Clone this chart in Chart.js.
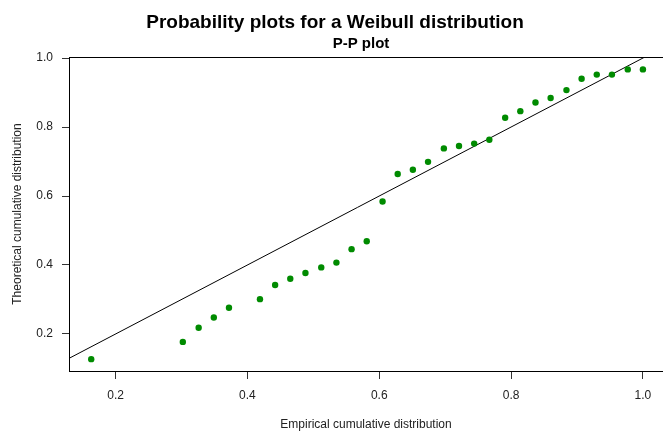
<!DOCTYPE html>
<html>
<head>
<meta charset="utf-8">
<title>P-P plot</title>
<script src="https://cdn.jsdelivr.net/npm/chart.js@4/dist/chart.umd.min.js"></script>
<style>
    html, body { margin: 0; padding: 0; background: #fff; overflow: hidden; }
    canvas { display: block; }
</style>
</head>
<body>
<canvas id="ppplot" width="669" height="435"></canvas>
<script>
// Empirical cumulative probabilities (x)
const empiricalProb = [
    0.163, 0.302, 0.326, 0.349, 0.372, 0.419, 0.442, 0.465, 0.488, 0.512,
    0.535, 0.558, 0.581, 0.605, 0.628, 0.651, 0.674, 0.698, 0.721, 0.744,
    0.767, 0.791, 0.814, 0.837, 0.860, 0.884, 0.907, 0.930, 0.953, 0.977, 1.000
];

// Theoretical (Weibull) cumulative probabilities (y)
const theoreticalProb = [
    0.127, 0.177, 0.218, 0.248, 0.276, 0.301, 0.342, 0.360, 0.377, 0.393,
    0.407, 0.446, 0.469, 0.584, 0.664, 0.676, 0.699, 0.738, 0.745, 0.752,
    0.763, 0.827, 0.846, 0.871, 0.884, 0.907, 0.940, 0.952, 0.952, 0.967, 0.967
];

// Reference line y = x
const refLineX = [0, 1.1];

const xTicks = [0.2, 0.4, 0.6, 0.8, 1.0];
const yTicks = [0.2, 0.4, 0.6, 0.8, 1.0];

const mainTitle = "Probability plots for a Weibull distribution";
const subTitle = "P-P plot";
const xTitle = "Empirical cumulative distribution";
const yTitle = "Theoretical cumulative distribution";

const FONT = "'Liberation Sans', Arial, sans-serif";

// draws the box and all the titles (R style)
const frameAndTitles = {
    id: "frameAndTitles",
    afterDraw(chart) {
        const { ctx, chartArea: a } = chart;
        ctx.save();
        ctx.strokeStyle = "#000";
        ctx.lineWidth = 1;
        ctx.strokeRect(a.left + 0.5, a.top + 0.5, a.right - a.left, a.bottom - a.top);

        ctx.fillStyle = "#000";
        ctx.textAlign = "center";
        ctx.textBaseline = "alphabetic";
        ctx.font = "bold 19px " + FONT;
        ctx.fillText(mainTitle, 335, 28);
        ctx.font = "bold 15px " + FONT;
        ctx.fillText(subTitle, 361, 48);

        ctx.fillStyle = "#222";
        ctx.font = "12px " + FONT;
        ctx.fillText(xTitle, 366, 428);

        ctx.translate(21, 214);
        ctx.rotate(-Math.PI / 2);
        ctx.fillText(yTitle, 0, 0);
        ctx.restore();
    }
};

const points = empiricalProb.map((x, i) => ({ x: x, y: theoreticalProb[i] }));
const refLine = refLineX.map(v => ({ x: v, y: v }));

new Chart(document.getElementById("ppplot"), {
    type: "scatter",
    data: {
        datasets: [
            {
                label: "y = x",
                data: refLine,
                showLine: true,
                borderColor: "#000",
                borderWidth: 1,
                pointRadius: 0,
                order: 2
            },
            {
                label: "P-P",
                data: points,
                backgroundColor: "#008B00",
                borderColor: "#008B00",
                borderWidth: 0,
                pointRadius: 3.2,
                order: 1
            }
        ]
    },
    options: {
        responsive: false,
        animation: false,
        devicePixelRatio: 1,
        layout: { padding: { top: 57, left: 0, right: 0, bottom: 0 } },
        plugins: {
            legend: { display: false },
            tooltip: { enabled: false }
        },
        scales: {
            x: {
                type: "linear",
                min: 0.1293,
                max: 1.0335,
                afterFit: scale => { scale.height = 64; },
                afterBuildTicks: scale => { scale.ticks = xTicks.map(v => ({ value: v })); },
                border: { display: false },
                grid: { drawOnChartArea: false, drawTicks: true, tickLength: 8, tickColor: "#333" },
                ticks: {
                    padding: 9,
                    color: "#222",
                    font: { family: FONT, size: 12 },
                    maxRotation: 0,
                    callback: v => v.toFixed(1)
                }
            },
            y: {
                type: "linear",
                min: 0.0927,
                max: 1.003,
                afterFit: scale => { scale.width = 69; },
                afterBuildTicks: scale => { scale.ticks = yTicks.map(v => ({ value: v })); },
                border: { display: false },
                grid: { drawOnChartArea: false, drawTicks: true, tickLength: 7, tickColor: "#333" },
                ticks: {
                    padding: 9,
                    color: "#222",
                    font: { family: FONT, size: 12 },
                    callback: v => v.toFixed(1)
                }
            }
        }
    },
    plugins: [frameAndTitles]
});
</script>
</body>
</html>
